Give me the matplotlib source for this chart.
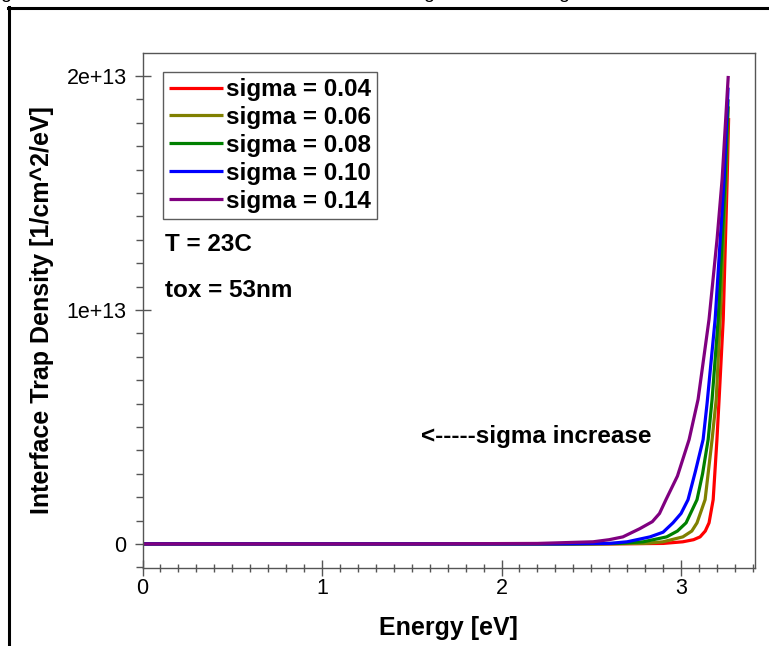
import matplotlib
matplotlib.use("Agg")
import matplotlib.pyplot as plt
from matplotlib.lines import Line2D
from matplotlib.ticker import MultipleLocator, FixedLocator

plt.rcParams['font.family'] = ['Liberation Sans', 'DejaVu Sans']

# ---- data; energies in eV, densities in 1e12 /cm^2/eV
labels = ["sigma = 0.04", "sigma = 0.06", "sigma = 0.08", "sigma = 0.10", "sigma = 0.14"]
colors = ["#ff0000", "#808000", "#008000", "#0000ff", "#800080"]

e_004 = [0.0, 2.60, 2.900, 3.010, 3.070, 3.106, 3.135, 3.156, 3.179, 3.200, 3.212, 3.235, 3.257, 3.265]
d_004 = [0.0, 0.00, 0.02, 0.09, 0.18, 0.30, 0.55, 0.90, 1.89, 4.46, 6.18, 9.60, 15.6, 18.2]

e_006 = [0.0, 2.50, 2.800, 2.900, 3.010, 3.060, 3.089, 3.134, 3.173, 3.196, 3.218, 3.251, 3.263]
d_006 = [0.0, 0.00, 0.02, 0.09, 0.30, 0.55, 0.90, 1.89, 4.46, 6.18, 9.60, 15.6, 18.7]

e_008 = [0.0, 2.40, 2.650, 2.790, 2.920, 2.980, 3.028, 3.089, 3.120, 3.151, 3.173, 3.207, 3.246, 3.262]
d_008 = [0.0, 0.00, 0.02, 0.09, 0.30, 0.55, 0.90, 1.89, 3.00, 4.46, 6.18, 9.60, 15.6, 19.0]

e_010 = [0.0, 2.30, 2.600, 2.700, 2.827, 2.900, 2.955, 3.000, 3.039, 3.080, 3.123, 3.145, 3.190, 3.240, 3.262]
d_010 = [0.0, 0.00, 0.02, 0.09, 0.30, 0.50, 0.90, 1.30, 1.89, 3.10, 4.46, 6.00, 9.60, 15.6, 19.5]

e_014 = [0.0, 1.50, 2.200, 2.510, 2.600, 2.676, 2.770, 2.840, 2.880, 2.916, 2.980, 3.045, 3.095, 3.156, 3.201, 3.229, 3.263]
d_014 = [0.0, 0.00, 0.02, 0.09, 0.18, 0.30, 0.65, 0.95, 1.30, 1.89, 2.90, 4.46, 6.18, 9.60, 13.05, 15.6, 20.0]

energies = [e_004, e_006, e_008, e_010, e_014]
densities = [d_004, d_006, d_008, d_010, d_014]
scale = 1e12

ytick_vals = [0, 1e13, 2e13]
ytick_labels = ["0", "1e+13", "2e+13"]
xtick_vals = [0, 1, 2, 3]

W, H = 769, 646
fig = plt.figure(figsize=(W / 100, H / 100), dpi=100)

def fx(px):
    return px / W

def fy(py):
    return 1 - py / H

ax_l, ax_r, ax_t, ax_b = 142.5, 755, 53, 568
ax = fig.add_axes([fx(ax_l), fy(ax_b), (ax_r - ax_l) / W, (ax_b - ax_t) / H])

for e, d, c, lab in zip(energies, densities, colors, labels):
    ax.plot(e, [v * scale for v in d], color=c, lw=2.3, label=lab,
            solid_joinstyle='round', solid_capstyle='butt')

ax.set_xlim(0, 3.412)
ax.set_ylim(-1.03e12, 20.98e12)

ax.xaxis.set_major_locator(FixedLocator(xtick_vals))
ax.xaxis.set_minor_locator(MultipleLocator(0.1))
ax.yaxis.set_major_locator(FixedLocator(ytick_vals))
ax.set_yticklabels(ytick_labels)
ax.yaxis.set_minor_locator(MultipleLocator(1e12))

spine_c = "#555555"
for s in ax.spines.values():
    s.set_color(spine_c)
    s.set_linewidth(1.0)

ax.tick_params(axis='x', which='major', direction='inout', length=11, width=1,
               color=spine_c, labelsize=15.5, pad=2)
ax.tick_params(axis='x', which='minor', direction='inout', length=6, width=1, color=spine_c)
ax.tick_params(axis='y', which='major', direction='inout', length=11, width=1,
               color=spine_c, labelsize=15.5, pad=6)
ax.tick_params(axis='y', which='minor', direction='out', length=5, width=1, color=spine_c)

ax.set_xlabel("Energy [eV]", fontsize=18, fontweight='bold', labelpad=12)
ax.set_ylabel("Interface Trap Density [1/cm^2/eV]", fontsize=18, fontweight='bold', labelpad=9)

leg = ax.legend(loc='upper left', bbox_to_anchor=(fx(163), fy(72)),
                bbox_transform=fig.transFigure, frameon=True, fancybox=False,
                prop={'size': 17.5, 'weight': 'bold'}, handlelength=2.2,
                handletextpad=0.15, labelspacing=0.2, borderpad=0.25,
                borderaxespad=0)
leg.get_frame().set_edgecolor("#333333")
leg.get_frame().set_linewidth(1.0)
for h in leg.get_lines():
    h.set_linewidth(2.3)

ax.text(fx(165), fy(245), "T = 23C", transform=fig.transFigure, fontsize=17.5,
        fontweight='bold', ha='left', va='center')
ax.text(fx(165), fy(290), "tox = 53nm", transform=fig.transFigure, fontsize=17.5,
        fontweight='bold', ha='left', va='center')
ax.text(fx(421), fy(437), "<-----sigma increase", transform=fig.transFigure,
        fontsize=17.5, fontweight='bold', ha='left', va='center')

# outer document frame (partially visible)
fig.add_artist(Line2D([fx(9), fx(9)], [fy(7), 0], transform=fig.transFigure,
                      color='black', lw=2.2))
fig.add_artist(Line2D([fx(8), 1.0], [fy(7.5), fy(7.5)], transform=fig.transFigure,
                      color='black', lw=2.2))

# descenders of caption text cut off at the top edge
for px, s in [(0, "g"), (162, "ıll"), (423, "g"), (558, "g")]:
    fig.text(fx(px), 1 + 2 / H, s, fontsize=14, ha='left', va='baseline', color='black')

fig.savefig("out.png", dpi=100)
